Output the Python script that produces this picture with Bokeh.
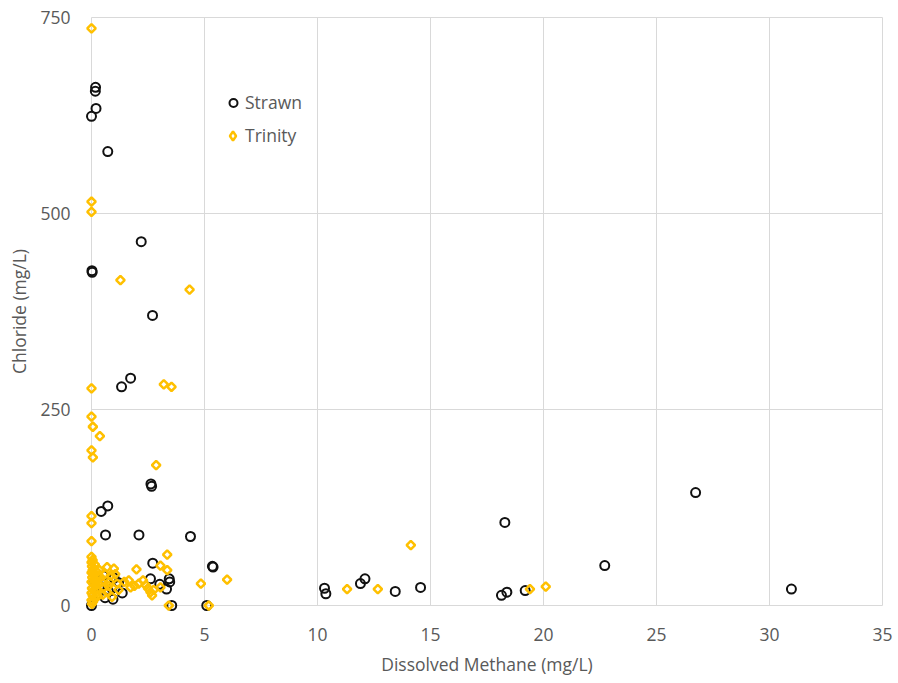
import math
from bokeh.plotting import figure
from bokeh.models import FixedTicker, Range1d, Legend, LegendItem
from bokeh.embed import file_html
from bokeh.resources import INLINE

# Dissolved methane (mg/L) vs chloride (mg/L) by aquifer
strawn_methane = [0.0, 0.18, 0.17, 0.2, 0.72, 0.02, 0.03, 2.2, 1.73, 1.33, 2.7, 2.63, 2.66,
                  0.43, 0.72, 0.62, 2.1, 4.38, 2.71, 5.35, 5.38, 2.61, 3.44, 3.46, 3.02,
                  3.32, 1.36, 3.55, 5.1, 0.0, 1.2, 0.53, 0.9, 0.3, 0.15, 0.6, 1.0, 0.35,
                  0.75, 0.95, 10.31, 10.37, 11.9, 12.1, 13.44, 14.56, 18.29, 18.14, 18.38,
                  19.19, 22.71, 26.73, 30.97]
strawn_chloride = [624, 661, 656, 634, 579, 427, 425, 464, 290, 279, 370, 155, 152,
                   120, 127, 90, 90, 88, 54, 50, 49, 34, 34, 30, 27,
                   21, 16, 0, 0, 0, 29, 38, 22, 15, 30, 10, 35, 25,
                   18, 8, 22, 15, 28, 34, 18, 23, 106, 13, 17,
                   19, 51, 144, 21]

trinity_methane = [0.0, 0.0, 0.0, 1.28, 4.34, 3.2, 3.54, 0.0, 0.0, 0.06, 0.37, 0.0, 0.06,
                   2.86, 0.0, 0.0, 0.0, 0.0, 3.35, 3.05, 3.35, 1.99, 4.84, 6.0, 3.42, 5.19,
                   1.65, 1.73, 2.09, 2.28, 2.61, 2.68, 3.05, 0.99, 0.69, 1.13, 0.91, 0.69,
                   0.4, 0.55, 11.31, 12.67, 14.13, 19.4, 20.1,
                   0.0, 0.02, 0.05, 0.0, 0.1, 0.03, 0.12, 0.0, 0.08, 0.15, 0.02, 0.1, 0.0,
                   0.05, 0.12, 0.0, 0.07, 0.02, 0.2, 0.25, 0.18, 0.22, 0.3, 0.28, 0.15,
                   0.05, 0.35, 0.45, 0.5, 0.8, 0.6, 0.75, 1.2, 1.45, 1.05, 0.85, 1.9, 2.5,
                   2.75, 2.4]
trinity_chloride = [736, 515, 502, 415, 403, 282, 279, 277, 241, 228, 216, 198, 189,
                    179, 114, 105, 82, 62, 65, 51, 45, 46, 28, 33, 0, 0,
                    32, 23, 28, 32, 17, 13, 23, 47, 49, 28, 11, 17,
                    36, 23, 21, 21, 77, 21, 24,
                    55, 50, 45, 42, 40, 36, 33, 30, 28, 25, 22, 19, 16,
                    13, 10, 7, 5, 2, 44, 38, 30, 20, 28, 12, 52,
                    58, 45, 30, 14, 30, 40, 25, 20, 30, 40, 38, 25, 22,
                    20, 26]

x_ticks = [0, 5, 10, 15, 20, 25, 30, 35]
y_ticks = [0, 250, 500, 750]

FONT = "Open Sans"
FSIZE = "17.5px"
TEXT = "#595959"
GRID = "#D9D9D9"
YELLOW = "#FFC000"

# ranges padded slightly so markers on the zero lines are not cut off
x_pad = 0.354
y_pad = 10.2
p = figure(width=898, height=683, output_backend="svg", toolbar_location=None,
           x_range=Range1d(-x_pad, 35 + x_pad), y_range=Range1d(-y_pad, 750 + y_pad),
           min_border_left=83, min_border_right=8, min_border_top=9, min_border_bottom=70)
p.frame_width = 807
p.frame_height = 604
p.outline_line_color = None
p.background_fill_color = "white"
p.border_fill_color = "white"
p.xgrid.visible = False
p.ygrid.visible = False

# bounded grid lines
p.segment(x0=x_ticks, y0=[0] * len(x_ticks), x1=x_ticks, y1=[750] * len(x_ticks),
          line_color=GRID, line_width=1)
p.segment(x0=[0] * len(y_ticks), y0=y_ticks, x1=[35] * len(y_ticks), y1=y_ticks,
          line_color=GRID, line_width=1)

s = p.scatter(strawn_methane, strawn_chloride, marker="circle", size=9,
              fill_color=None, line_color="#111111", line_width=2)
t = p.scatter(trinity_methane, trinity_chloride, marker="square", size=6,
              angle=math.pi / 4, fill_color=None, line_color=YELLOW, line_width=2.5)
# legend key for the rotated-square series (a single non-drawing NaN point)
nan = float("nan")
t_key = p.scatter([nan], [nan], marker="diamond", fill_color=None, line_color=YELLOW,
                  line_width=2.5)

for ax, ticks in ((p.xaxis[0], x_ticks), (p.yaxis[0], y_ticks)):
    ax.ticker = FixedTicker(ticks=ticks)
    ax.axis_line_color = None
    ax.major_tick_line_color = None
    ax.minor_tick_line_color = None
    ax.major_label_text_font = FONT
    ax.major_label_text_font_size = FSIZE
    ax.major_label_text_color = TEXT
    ax.axis_label_text_font = FONT
    ax.axis_label_text_font_size = FSIZE
    ax.axis_label_text_font_style = "normal"
    ax.axis_label_text_color = TEXT

p.xaxis.axis_label = "Dissolved Methane (mg/L)"
p.yaxis.axis_label = "Chloride (mg/L)"
p.xaxis.major_label_standoff = 8
p.xaxis.axis_label_standoff = 8
p.yaxis.major_label_standoff = 7
p.yaxis.axis_label_standoff = 6

legend_style = dict(padding=0, margin=0, border_line_color=None, background_fill_alpha=0,
                    label_text_font=FONT, label_text_font_size=FSIZE,
                    label_text_color=TEXT, label_height=24, glyph_height=23)
legend_s = Legend(items=[LegendItem(label="Strawn", renderers=[s])],
                  location=(140, 499), glyph_width=20, label_standoff=2, **legend_style)
legend_t = Legend(items=[LegendItem(label="Trinity", renderers=[t_key])],
                  location=(138, 466), glyph_width=23, label_standoff=1, **legend_style)
p.add_layout(legend_s, "center")
p.add_layout(legend_t, "center")

open("out.html", "w").write(file_html(p, INLINE))
